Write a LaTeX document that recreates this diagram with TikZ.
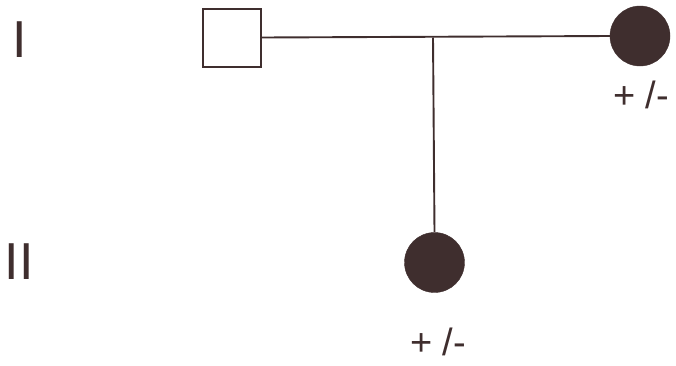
\documentclass[tikz,border=0pt]{standalone}
\usepackage{fontspec}
\setmainfont{Liberation Sans}
\definecolor{ink}{HTML}{3F2E2E}
\begin{document}
\begin{tikzpicture}[x=1pt,y=-1pt,
  male/.style={draw=ink,line width=2pt,fill=white,minimum size=58pt,inner sep=0pt},
  affected/.style={circle,draw=ink,fill=ink,minimum size=60pt,inner sep=0pt},
  rel/.style={draw=ink,line width=1.9pt},
  gen/.style={text=ink,font=\fontsize{52}{52}\selectfont,inner sep=0pt},
  lab/.style={text=ink,font=\fontsize{38}{38}\selectfont,inner sep=0pt}]
\useasboundingbox (0,0) rectangle (676,365);
\node[gen] (g1) at (20,40) {I};
\node[gen] (g2) at (19,262) {II};
\node[male] (f) at (231.5,37.5) {};
\node[affected] (m) at (640,36) {};
\node[affected] (c) at (434.5,262.5) {};
\coordinate (j) at (433,37.5);
\draw[rel] (f.east) -- (m.west);
\draw[rel] (j) -- (c.north);
\node[lab,anchor=base] (lm) at (641,108) {+ /-};
\node[lab,anchor=base] (lc) at (438,355) {+ /-};
\end{tikzpicture}
\end{document}
